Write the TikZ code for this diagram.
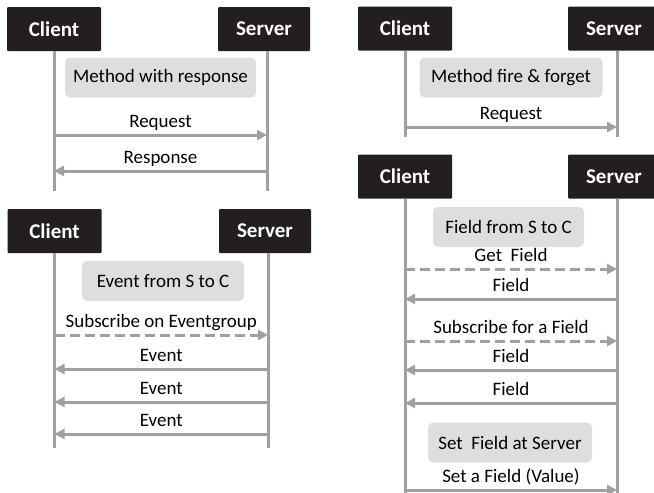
\documentclass[tikz,border=0pt]{standalone}
\usepackage{fontspec}
\setmainfont{Carlito}
\usepackage{tikz}
\usetikzlibrary{arrows.meta}

\definecolor{boxblack}{HTML}{231F20}
\definecolor{linegray}{HTML}{A0A0A0}
\definecolor{notegray}{HTML}{DEDEDE}

\tikzset{
  actor/.style={fill=boxblack, text=white, font=\bfseries\fontsize{21}{21}\selectfont,
    minimum height=44pt, inner sep=0pt, rounded corners=1pt},
  client/.style={actor, minimum width=94pt},
  server/.style={actor, minimum width=92pt},
  life/.style={draw=linegray, line width=3pt},
  msg/.style={draw=linegray, line width=3pt, -{Triangle[length=10pt,width=10pt]}},
  sub/.style={msg, dash pattern=on 10pt off 5pt},
  note/.style={fill=notegray, rounded corners=5pt, minimum height=40pt, inner sep=0pt,
    font=\fontsize{19}{19}\selectfont},
  lbl/.style={font=\fontsize{19}{19}\selectfont, inner sep=0pt, text depth=0pt, above=6pt},
}

\begin{document}
\begin{tikzpicture}[x=1pt, y=-1pt]
\useasboundingbox (0,0) rectangle (654,493);

% Method with response
\node[client] (c1) at (54,29) {Client};
\node[server] (s1) at (264,29) {Server};
\coordinate (c1top) at (c1.south);
\coordinate (s1top) at ([xshift=3pt]s1.south);
\coordinate (c1end) at (c1top |- 0,191);
\coordinate (s1end) at (s1top |- 0,191);
\draw[life] (c1top) -- (c1end);
\draw[life] (s1top) -- (s1end);
\node[note, minimum width=191pt] (n1) at (160.5,77.5) {Method with response};
\draw[msg] (c1top |- 0,135) -- (s1top |- 0,135) node[lbl, midway] {Request};
\draw[msg] (s1top |- 0,171) -- (c1top |- 0,171) node[lbl, midway] {Response};

% Method fire & forget
\node[client] (c2) at (405,28.5) {Client};
\node[server] (s2) at (614,28.5) {Server};
\coordinate (c2top) at (c2.south);
\coordinate (s2top) at ([xshift=3pt]s2.south);
\coordinate (c2end) at (c2top |- 0,137);
\coordinate (s2end) at (s2top |- 0,137);
\draw[life] (c2top) -- (c2end);
\draw[life] (s2top) -- (s2end);
\node[note, minimum width=183pt] (n2) at (511,77.5) {Method fire \& forget};
\draw[msg] (c2top |- 0,127) -- (s2top |- 0,127) node[lbl, midway] {Request};

% Event from S to C
\node[client] (c3) at (54.5,231) {Client};
\node[server] (s3) at (265,231) {Server};
\coordinate (c3top) at (c3.south);
\coordinate (s3top) at ([xshift=3pt]s3.south);
\coordinate (c3end) at (c3top |- 0,448);
\coordinate (s3end) at (s3top |- 0,448);
\draw[life] (c3top) -- (c3end);
\draw[life] (s3top) -- (s3end);
\node[note, minimum width=162pt] (n3) at (163,281) {Event from S to C};
\draw[sub] (c3top |- 0,335) -- (s3top |- 0,335) node[lbl, midway] {Subscribe on Eventgroup};
\foreach \y in {369,402,434}
  \draw[msg] (s3top |- 0,\y) -- (c3top |- 0,\y) node[lbl, midway] {Event};

% Field from S to C
\node[client] (c4) at (405,176.5) {Client};
\node[server] (s4) at (614,176.5) {Server};
\coordinate (c4top) at (c4.south);
\coordinate (s4top) at ([xshift=3pt]s4.south);
\coordinate (c4end) at (c4top |- 0,493);
\coordinate (s4end) at (s4top |- 0,493);
\draw[life] (c4top) -- (c4end);
\draw[life] (s4top) -- (s4end);
\node[note, minimum width=151pt] (n4) at (508.5,227) {Field from S to C};
\draw[sub] (c4top |- 0,269) -- (s4top |- 0,269) node[lbl, midway] {Get\ \ Field};
\draw[msg] (s4top |- 0,299) -- (c4top |- 0,299) node[lbl, midway] {Field};
\draw[sub] (c4top |- 0,341) -- (s4top |- 0,341) node[lbl, midway] {Subscribe for a Field};
\draw[msg] (s4top |- 0,370) -- (c4top |- 0,370) node[lbl, midway] {Field};
\draw[msg] (s4top |- 0,403) -- (c4top |- 0,403) node[lbl, midway] {Field};
\node[note, minimum width=164pt] (n5) at (510,442.5) {Set\ \ Field at Server};
\draw[msg] (c4top |- 0,490) -- (s4top |- 0,490) node[lbl, midway] {Set a Field (Value)};

\end{tikzpicture}
\end{document}
